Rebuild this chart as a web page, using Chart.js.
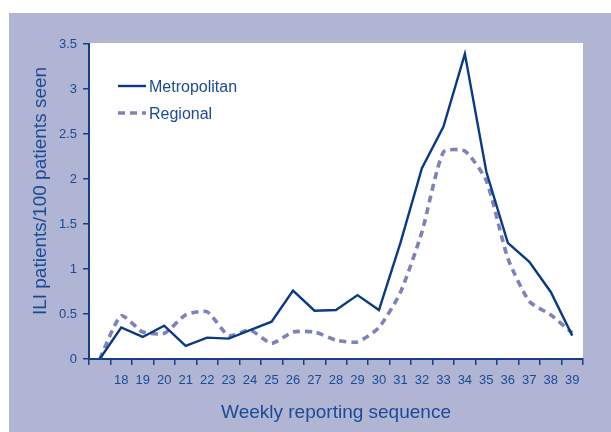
<!DOCTYPE html>
<html>
<head>
<meta charset="utf-8">
<script src="https://cdn.jsdelivr.net/npm/chart.js@4/dist/chart.umd.min.js"></script>
<style>
  html, body { margin: 0; padding: 0; background: #ffffff; }
  #wrap { width: 611px; height: 432px; position: relative; }
</style>
</head>
<body>
<div id="wrap"><canvas id="c" width="611" height="432"></canvas></div>
<script>
// ---- data ----
const weekLabels = ['', '18', '19', '20', '21', '22', '23', '24', '25', '26', '27', '28',
  '29', '30', '31', '32', '33', '34', '35', '36', '37', '38', '39'];
const metropolitan = [0, 0.35, 0.245, 0.37, 0.145, 0.237, 0.226, 0.32, 0.414, 0.76, 0.537, 0.544,
  0.71, 0.544, 1.29, 2.12, 2.58, 3.39, 2.08, 1.29, 1.08, 0.745, 0.26];
const regional = [0, 0.48, 0.30, 0.285, 0.49, 0.525, 0.26, 0.32, 0.175, 0.30, 0.30, 0.21,
  0.19, 0.35, 0.74, 1.41, 2.30, 2.31, 1.98, 1.12, 0.64, 0.49, 0.29];
const yTicks = [0, 0.5, 1, 1.5, 2, 2.5, 3, 3.5];
const seriesNames = ['Metropolitan', 'Regional'];
const xTitle = 'Weekly reporting sequence';
const yTitle = 'ILI patients/100 patients seen';

const TEXT = '#1b4a94';
const AXIS = '#133f88';
const METRO = '#0a3a86';
const REG = '#7d82ba';
const BG = '#b1b5d4';
const FONT = '"Liberation Sans", Arial, sans-serif';

const bgPlugin = {
  id: 'bg',
  beforeDraw(chart) {
    const { ctx, chartArea: a, width, height } = chart;
    ctx.save();
    ctx.fillStyle = '#ffffff';
    ctx.fillRect(0, 0, width, height);
    ctx.fillStyle = BG;
    ctx.fillRect(9, 13, width - 9, height - 13);
    ctx.fillStyle = '#ffffff';
    ctx.fillRect(a.left, a.top - 1, a.right - a.left, a.bottom - a.top + 1);
    ctx.restore();
  }
};

const legendPlugin = {
  id: 'customLegend',
  afterDraw(chart) {
    const { ctx } = chart;
    ctx.save();
    const x0 = 118, x1 = 146;
    const rows = [88, 115];
    chart.data.datasets.forEach((ds, i) => {
      const y = rows[i];
      ctx.beginPath();
      ctx.strokeStyle = ds.borderColor;
      ctx.lineWidth = ds.borderWidth;
      ctx.setLineDash(ds.borderDash || []);
      ctx.moveTo(x0, y - 2);
      ctx.lineTo(x1, y - 2);
      ctx.stroke();
      ctx.setLineDash([]);
      ctx.fillStyle = TEXT;
      ctx.font = '16px ' + FONT;
      ctx.textBaseline = 'middle';
      ctx.textAlign = 'left';
      ctx.fillText(ds.label, 149, y);
    });
    // y-axis title
    ctx.translate(41, 191);
    ctx.rotate(-Math.PI / 2);
    ctx.font = '19px ' + FONT;
    ctx.textAlign = 'center';
    ctx.textBaseline = 'middle';
    ctx.fillStyle = TEXT;
    ctx.fillText(yTitle, 0, 0);
    ctx.restore();
  }
};

new Chart(document.getElementById('c'), {
  type: 'line',
  data: {
    labels: weekLabels,
    datasets: [
      {
        label: seriesNames[0],
        data: metropolitan,
        borderColor: METRO,
        borderWidth: 2.4,
        pointRadius: 0,
        tension: 0,
        fill: false
      },
      {
        label: seriesNames[1],
        data: regional,
        borderColor: REG,
        borderWidth: 3.6,
        borderDash: [7, 5],
        pointRadius: 0,
        tension: 0.2,
        fill: false
      }
    ]
  },
  options: {
    responsive: false,
    animation: false,
    devicePixelRatio: 1,
    layout: { padding: { left: 0, right: 28, top: 44, bottom: 0 } },
    plugins: {
      legend: { display: false },
      tooltip: { enabled: false }
    },
    scales: {
      x: {
        offset: true,
        grid: {
          offset: true,
          drawOnChartArea: false,
          drawTicks: true,
          tickLength: 6,
          color: AXIS,
          lineWidth: 1.5
        },
        border: { display: true, color: AXIS, width: 2 },
        ticks: {
          color: TEXT,
          font: { family: FONT, size: 13 },
          padding: 8,
          maxRotation: 0,
          autoSkip: false
        },
        title: {
          display: true,
          text: xTitle,
          color: TEXT,
          font: { family: FONT, size: 19 },
          padding: { top: 0, bottom: 8 }
        },
        afterFit(scale) { scale.height = 73; }
      },
      y: {
        min: 0,
        max: 3.5,
        afterBuildTicks(scale) { scale.ticks = yTicks.map(v => ({ value: v })); },
        grid: {
          drawOnChartArea: false,
          drawTicks: true,
          tickLength: 6,
          color: AXIS,
          lineWidth: 1.5
        },
        border: { display: true, color: AXIS, width: 2 },
        ticks: {
          color: TEXT,
          font: { family: FONT, size: 13 },
          padding: 6,
          callback: (v) => String(v)
        },
        title: { display: false },
        afterFit(scale) { scale.width = 89; }
      }
    }
  },
  plugins: [bgPlugin, legendPlugin]
});
</script>
</body>
</html>
